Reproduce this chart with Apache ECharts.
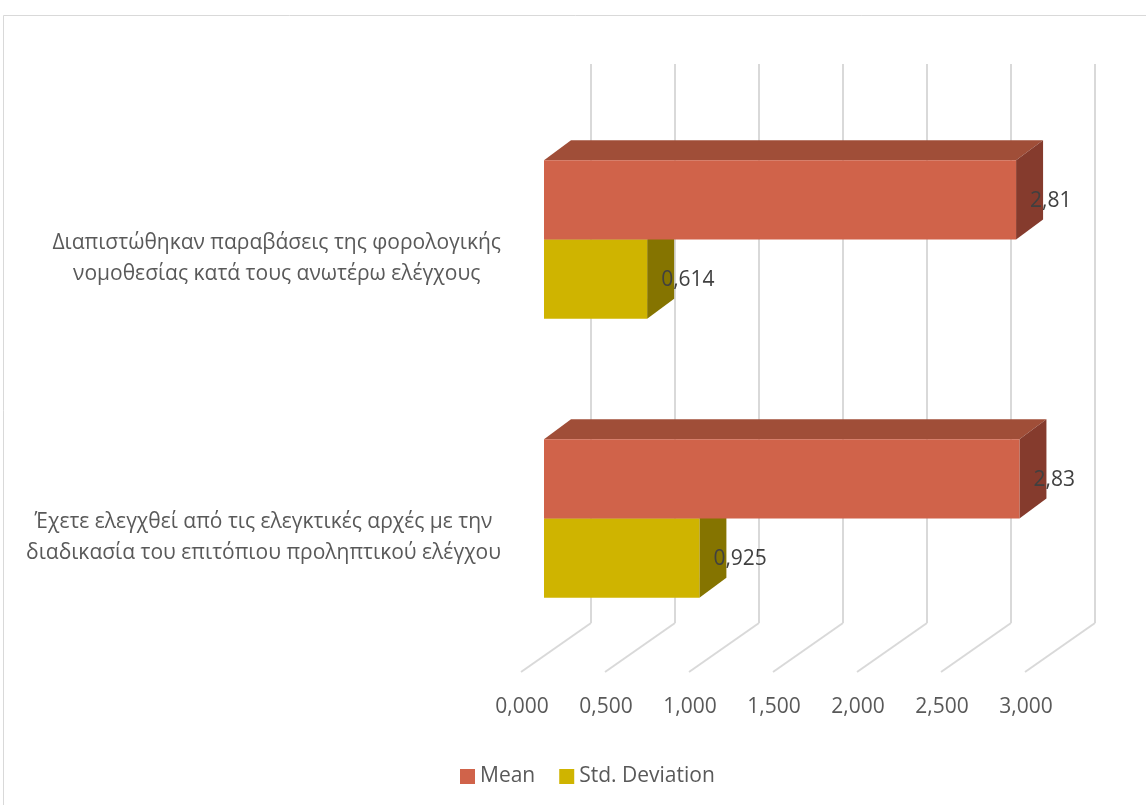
<!DOCTYPE html>
<html>
<head>
<meta charset="utf-8">
<script src="https://cdn.jsdelivr.net/npm/echarts@6/dist/echarts.min.js"></script>
<style>
html,body{margin:0;padding:0;background:#fff;}
#chart{width:1146px;height:805px;}
</style>
</head>
<body>
<div id="chart"></div>
<script>
// ---- data ----
const categories = [
  'Διαπιστώθηκαν παραβάσεις της φορολογικής\nνομοθεσίας κατά τους ανωτέρω ελέγχους',
  'Έχετε ελεγχθεί από τις ελεγκτικές αρχές με την\nδιαδικασία του επιτόπιου προληπτικού ελέγχου'
];
const meanValues = [2.81, 2.83];
const stdValues = [0.614, 0.925];
const axisTicks = [0, 0.5, 1, 1.5, 2, 2.5, 3];
const seriesNames = ['Mean', 'Std. Deviation'];

// ---- style ----
const FONT = '"Open Sans", "Noto Sans", sans-serif';
const FS = 21;
const DEPTH_X = 27, DEPTH_Y = -20;
const FLOOR_X = -70, FLOOR_Y = 49;

function fmt(v){ return String(v).replace('.', ','); }

function boxRenderer(position, colors){
  return function(params, api){
    const v = api.value(0);
    const cat = api.value(1);
    const p0 = api.coord([0, cat]);
    const p1 = api.coord([v, cat]);
    const band = api.size([0, 1])[1];
    const h = band * 0.284;
    const y0 = position === 'upper' ? p0[1] - h : p0[1];
    const y1 = y0 + h;
    const x0 = p0[0], x1 = p1[0];
    return {
      type: 'group',
      children: [
        { type: 'polygon', shape: { points: [[x0,y0],[x1,y0],[x1+DEPTH_X,y0+DEPTH_Y],[x0+DEPTH_X,y0+DEPTH_Y]] }, style: { fill: colors.top } },
        { type: 'polygon', shape: { points: [[x1,y0],[x1+DEPTH_X,y0+DEPTH_Y],[x1+DEPTH_X,y1+DEPTH_Y],[x1,y1]] }, style: { fill: colors.side } },
        { type: 'rect', shape: { x: x0, y: y0, width: x1 - x0, height: h }, style: { fill: colors.front } },
        { type: 'text', z2: 10, style: { x: x1 + 14, y: (y0 + y1) / 2 + 1, text: fmt(v), fill: '#404040', font: FS + 'px ' + FONT, align: 'left', verticalAlign: 'middle' } }
      ]
    };
  };
}

function floorRenderer(params, api){
  const v = api.value(0);
  const p = api.coord([v, 0]);
  return {
    type: 'line',
    shape: { x1: p[0], y1: p[1], x2: p[0] + FLOOR_X, y2: p[1] + FLOOR_Y },
    style: { stroke: '#d9d9d9', lineWidth: 2 }
  };
}

const chart = echarts.init(document.getElementById('chart'), null, { renderer: 'canvas' });

const option = {
  backgroundColor: '#ffffff',
  animation: false,
  textStyle: { fontFamily: FONT },
  graphic: [
    { type: 'rect', shape: { x: 3.5, y: 15.5, width: 1300, height: 1000 }, style: { fill: 'none', stroke: '#d9d9d9', lineWidth: 1 }, silent: true }
  ],
  legend: {
    data: seriesNames,
    left: 455,
    top: 761,
    icon: 'rect',
    itemWidth: 15,
    itemHeight: 15,
    itemGap: 24,
    textStyle: { fontSize: FS, color: '#595959', fontFamily: FONT }
  },
  grid: [
    { left: 544, top: 100, width: 504, height: 558 },   // bar front plane
    { left: 591, top: 64, width: 504, height: 559 },    // back wall
    { left: 522, top: 119, width: 504, height: 558 }    // floor front
  ],
  xAxis: [
    { gridIndex: 0, type: 'value', min: 0, max: 3, show: false },
    { gridIndex: 1, type: 'value', min: 0, max: 3, interval: 0.5,
      axisLine: { show: false }, axisTick: { show: false }, axisLabel: { show: false },
      splitLine: { show: true, showMinLine: true, showMaxLine: true, lineStyle: { color: '#d9d9d9', width: 2 } } },
    { gridIndex: 2, type: 'value', min: 0, max: 3, interval: 0.5,
      axisLine: { show: false }, axisTick: { show: false }, splitLine: { show: false },
      axisLabel: { margin: 20, fontSize: FS, color: '#595959', fontFamily: FONT,
        formatter: v => v.toFixed(3).replace('.', ',') } }
  ],
  yAxis: [
    { gridIndex: 0, type: 'category', data: categories, inverse: true, show: false },
    { gridIndex: 1, type: 'value', min: 0, max: 1, show: false },
    { gridIndex: 2, type: 'category', data: categories, inverse: true,
      axisLine: { show: false }, axisTick: { show: false }, splitLine: { show: false },
      axisLabel: { margin: 21, align: 'right',
        formatter: v => v.split('\n').map(s => '{c|' + s + '}').join('\n'),
        rich: { c: { align: 'center', fontSize: FS, lineHeight: 31, color: '#595959', fontFamily: FONT } } } }
  ],
  series: [
    { type: 'custom', name: '__floor', xAxisIndex: 1, yAxisIndex: 1, z: 1, silent: true,
      data: axisTicks.map(t => [t]), encode: { x: 0 }, renderItem: floorRenderer },
    { type: 'custom', name: seriesNames[1], xAxisIndex: 0, yAxisIndex: 0, z: 3,
      itemStyle: { color: '#CFB400' },
      data: stdValues.map((v, i) => [v, i]), encode: { x: 0, y: 1 },
      renderItem: boxRenderer('lower', { front: '#CFB400', top: '#A89200', side: '#857400' }) },
    { type: 'custom', name: seriesNames[0], xAxisIndex: 0, yAxisIndex: 0, z: 4,
      itemStyle: { color: '#D0634A' },
      data: meanValues.map((v, i) => [v, i]), encode: { x: 0, y: 1 },
      renderItem: boxRenderer('upper', { front: '#D0634A', top: '#A04E38', side: '#853B2D' }) }
  ]
};
chart.setOption(option);
</script>
</body>
</html>
